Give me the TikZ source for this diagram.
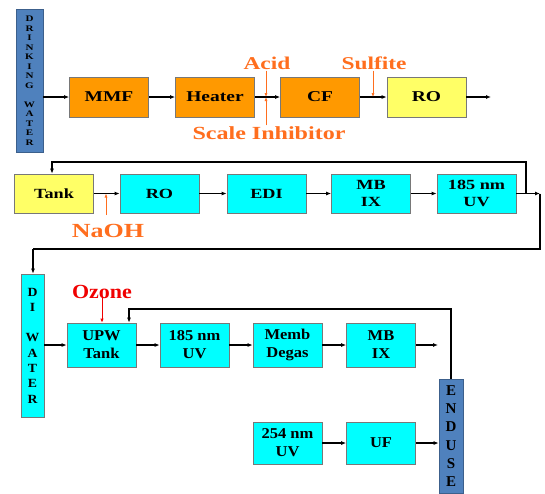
\documentclass[tikz,border=0pt]{standalone}
\usepackage{fontspec}
\setmainfont{Liberation Serif}[BoldFont={Liberation Serif Bold}]
\newfontfamily\fa{Liberation Serif}[FakeStretch=1.3, BoldFont={Liberation Serif Bold}]
\newfontfamily\fb{Liberation Serif}[FakeStretch=1.1, BoldFont={Liberation Serif Bold}]
\usetikzlibrary{arrows.meta}
\definecolor{orbox}{RGB}{255,153,0}
\definecolor{ybox}{RGB}{255,255,102}
\definecolor{cybox}{RGB}{0,255,255}
\definecolor{barblue}{RGB}{79,129,189}
\definecolor{barline}{RGB}{60,96,140}
\definecolor{ortext}{RGB}{255,110,30}
\definecolor{redtext}{RGB}{240,0,0}
\definecolor{boxline}{RGB}{120,120,120}
\begin{document}
\begin{tikzpicture}[x=1pt,y=-1pt,
  box/.style={draw=boxline, line width=0.7pt, inner sep=0pt, minimum width=79pt, minimum height=40pt, align=center, text=black},
  rowone/.style={box, font=\fa\bfseries\fontsize{15}{17}\selectfont},
  rowtwo/.style={box, minimum height=39pt, font=\fa\bfseries\fontsize{14}{17}\selectfont},
  rowthree/.style={box, fill=cybox, minimum width=69pt, minimum height=44pt, font=\fb\bfseries\fontsize{15}{18}\selectfont},
  obox/.style={rowone, fill=orbox},
  y1box/.style={rowone, fill=ybox},
  y2box/.style={rowtwo, fill=ybox},
  c2box/.style={rowtwo, fill=cybox},
  vbar/.style={draw=barline, line width=0.7pt, fill=barblue, inner sep=0pt, align=center, text=black},
  lab/.style={text=ortext, inner sep=1pt, font=\fa\bfseries\fontsize{18}{20}\selectfont},
  flow/.style={-{Latex[length=5pt,width=4pt]}, line width=1.1pt, draw=black},
  plain/.style={line width=1.1pt, draw=black},
  add/.style={-{Latex[length=4pt,width=3pt]}, line width=0.7pt, draw=ortext},
  oadd/.style={-{Latex[length=4pt,width=3.5pt]}, line width=0.8pt, draw=redtext}
]
\fill[white] (0,0) rectangle (545,493);
\useasboundingbox (0,0) rectangle (545,493);
\clip (0,0) rectangle (545,493);

% ---------- row 1 ----------
\node[vbar, minimum width=27pt, minimum height=143pt, font=\fa\bfseries\fontsize{8.5}{9.5}\selectfont] (dw) at (29.5,80.5) {D\\R\\I\\N\\K\\I\\N\\G\\[9.5pt]W\\A\\T\\E\\R};
\node[obox] (mmf) at (109,97) {MMF};
\node[obox] (heat) at (215,97) {Heater};
\node[obox] (cf) at (320,97) {CF};
\node[y1box] (ro1) at (426.5,97) {RO};
\coordinate (r1end) at (491,97);

\draw[flow] (dw.east |- mmf.west) -- (mmf.west);
\draw[flow] (mmf) -- (heat);
\draw[flow] (heat) -- (cf);
\draw[flow] (cf) -- (ro1);
\draw[flow] (ro1) -- (r1end);

\node[lab] (acid) at (267,63) {Acid};
\node[lab, font=\fa\bfseries\fontsize{18.5}{20}\selectfont] (scale) at (269,133) {Scale Inhibitor};
\node[lab] (sulf) at (374,63) {Sulfite};
\coordinate (pa) at (266,97);
\coordinate (ps) at (373,97);
\draw[add] (acid.south -| pa) -- (pa);
\draw[add] (scale.north -| pa) -- (pa);
\draw[add] (sulf.south -| ps) -- (ps);

% ---------- row 2 ----------
\node[y2box] (tank) at (54,193.5) {Tank};
\node[c2box] (ro2) at (159.5,193.5) {RO};
\node[c2box] (edi) at (266.5,193.5) {EDI};
\node[c2box] (mb1) at (371,193.5) {MB\\IX};
\node[c2box] (uv1) at (476.5,193.5) {185 nm\\UV};

\draw[flow] (tank) -- (ro2);
\draw[flow] (ro2) -- (edi);
\draw[flow] (edi) -- (mb1);
\draw[flow] (mb1) -- (uv1);

\coordinate (l1a) at (526,193.5);
\coordinate (l1c) at (52,162);
\draw[flow] (l1a) |- (l1c) -- (l1c |- tank.north);

\coordinate (o2) at (540,193.5);
\coordinate (o2b) at (33,249);
\draw[flow] (uv1) -- (o2);

\node[lab, font=\fa\bfseries\fontsize{20}{22}\selectfont] (naoh) at (108,231) {NaOH};
\coordinate (pn) at (106,193.5);
\coordinate (pnt) at (106,215);
\draw[add] (pnt) -- (pn);

% ---------- row 3 ----------
\node[vbar, fill=cybox, draw=boxline, minimum width=23pt, minimum height=143pt, font=\fb\bfseries\fontsize{12.5}{15.3}\selectfont] (di) at (32.5,345.5) {D\\I\\[15.3pt]W\\A\\T\\E\\R};
\draw[plain] (o2) |- (o2b);
\draw[flow] (o2b) -- (o2b |- di.north);

\node[rowthree] (upw) at (101.5,345) {UPW\\Tank};
\node[rowthree] (uv2) at (194.5,345) {185 nm\\UV};
\node[rowthree] (memb) at (287.5,345) {Memb\\Degas};
\node[rowthree] (mb2) at (381,345) {MB\\IX};
\coordinate (r3end) at (438,345);

\draw[flow] (di.east |- upw.west) -- (upw.west);
\draw[flow] (upw) -- (uv2);
\draw[flow] (uv2) -- (memb);
\draw[flow] (memb) -- (mb2);
\draw[flow] (mb2) -- (r3end);

\node[text=redtext, inner sep=1pt, font=\fb\bfseries\fontsize{20}{22}\selectfont] (oz) at (102,292) {Ozone};
\draw[oadd] ([yshift=4pt]oz.south) -- (oz.south |- upw.north);

% ---------- end use ----------
\node[vbar, minimum width=24pt, minimum height=114pt, font=\bfseries\fontsize{15}{18.3}\selectfont] (eu) at (451,436) {E\\N\\D\\U\\S\\E};
\coordinate (l3) at (129,309);
\draw[flow] (eu.north) |- (l3) -- (l3 |- upw.north);

% ---------- row 4 ----------
\node[rowthree, minimum height=42pt] (uv3) at (287.5,443) {254 nm\\UV};
\node[rowthree, minimum height=42pt] (uf) at (381,443) {UF};
\draw[flow] (uv3) -- (uf);
\draw[flow] (uf) -- (uf -| eu.west);
\end{tikzpicture}
\end{document}
